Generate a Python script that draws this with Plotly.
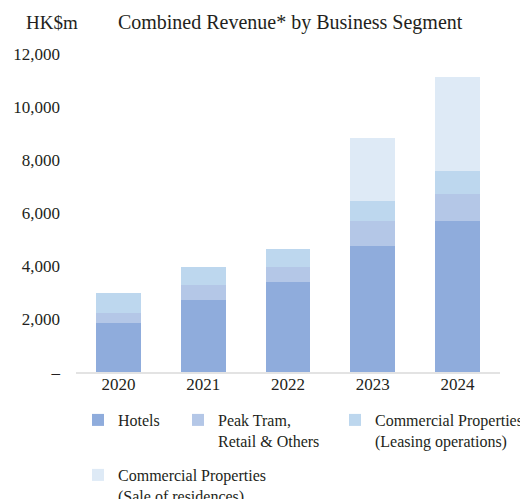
import plotly.graph_objects as go

years = ["2020", "2021", "2022", "2023", "2024"]
hotels = [1840, 2720, 3400, 4750, 5700]
peak_tram = [380, 570, 570, 945, 1020]
leasing = [755, 680, 680, 755, 870]
sale_residences = [0, 0, 0, 2380, 3550]

series_names = [
    "Hotels",
    "Peak Tram,<br>Retail & Others",
    "Commercial Properties<br>(Leasing operations)",
    "Commercial Properties<br>(Sale of residences)",
]
series_values = [hotels, peak_tram, leasing, sale_residences]
colors = ["#8facdc", "#b4c7e7", "#bdd7ee", "#deeaf6"]

y_ticks = [0, 2000, 4000, 6000, 8000, 10000, 12000]
y_tick_text = ["–", "2,000", "4,000", "6,000", "8,000", "10,000", "12,000"]

FONT = "Liberation Serif, Times New Roman, serif"
TEXT = "#231f20"

fig = go.Figure()
legend_ids = ["legend", "legend2", "legend3", "legend4"]
for name, vals, color, lg in zip(series_names, series_values, colors, legend_ids):
    fig.add_trace(go.Bar(
        name=name,
        x=years,
        y=vals,
        marker=dict(color=color, line=dict(width=0)),
        legend=lg,
        showlegend=True,
    ))

# one legend per entry so the columns can sit where the original has them
legend_style = dict(
    font=dict(family=FONT, size=16, color=TEXT),
    bgcolor="rgba(0,0,0,0)",
    valign="top",
    xref="container",
    yref="container",
    xanchor="left",
    yanchor="top",
    tracegroupgap=0,
)

fig.update_layout(
    width=528,
    height=499,
    showlegend=True,
    barmode="stack",
    bargap=0.47,
    plot_bgcolor="white",
    paper_bgcolor="white",
    margin=dict(l=68, r=36, t=46, b=135, autoexpand=False),
    font=dict(family=FONT, size=17, color=TEXT),
    legend=dict(x=0.1326, y=0.2084, **legend_style),
    legend2=dict(x=0.322, y=0.2084, **legend_style),
    legend3=dict(x=0.6193, y=0.2084, **legend_style),
    legend4=dict(x=0.1326, y=0.0982, **legend_style),
    title=dict(
        text="Combined Revenue* by Business Segment",
        x=0.505, xref="paper", xanchor="center",
        y=0.972, yref="container", yanchor="middle",
        font=dict(family=FONT, size=20, color=TEXT),
    ),
    xaxis=dict(
        showline=True,
        linecolor="#e3e3e3",
        linewidth=2,
        showgrid=False,
        ticks="",
        ticklabelstandoff=-4,
        tickfont=dict(size=17),
    ),
    yaxis=dict(
        range=[0, 12000],
        tickvals=y_ticks,
        ticktext=y_tick_text,
        showgrid=False,
        zeroline=False,
        showline=False,
        ticks="",
        ticklabelstandoff=15,
        tickfont=dict(size=17),
    ),
    annotations=[
        dict(
            text="HK$m",
            xref="paper", yref="paper",
            x=-0.0566, y=1.1006, xanchor="center", yanchor="middle",
            showarrow=False,
            font=dict(family=FONT, size=19, color=TEXT),
        )
    ],
)

fig.write_html("out.html")
